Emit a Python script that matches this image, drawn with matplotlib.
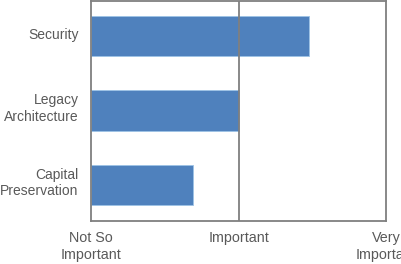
import matplotlib.pyplot as plt
from matplotlib.transforms import ScaledTranslation

categories = ["Capital\nPreservation", "Legacy\nArchitecture", "Security"]
scores = [0.69, 1.0, 1.48]
tick_vals = [0, 1, 2]
tick_labels = ["Not So\nImportant", "Important", "Very\nImportant"]

plt.rcParams["font.family"] = ["Liberation Sans", "DejaVu Sans"]

fig = plt.figure(figsize=(4.01, 2.64), dpi=100)
ax = fig.add_axes([91 / 401, 43 / 264, 295 / 401, 220 / 264])

ax.barh(range(len(categories)), scores, height=0.54, color="#4F81BD",
        edgecolor="#9DC3E6", linewidth=0.6, zorder=2)
ax.axvline(1, color="#7F7F7F", linewidth=1.3, zorder=3)

ax.set_xlim(0, 2)
ax.set_ylim(-0.48, 2.47)
ax.set_xticks(tick_vals)
ax.set_xticklabels(tick_labels, fontsize=10.3, color="#595959",
                   linespacing=1.3, multialignment="center")
ax.set_yticks(range(len(categories)))
ax.set_yticklabels(categories, fontsize=10, color="#595959",
                   linespacing=1.25, multialignment="right")
ax.tick_params(length=0, axis="x", pad=7)
ax.tick_params(length=0, axis="y", pad=9)

# labels sit a few pixels above the bar centres in the original
for lab in ax.get_yticklabels():
    shift = 0.05 if "\n" in lab.get_text() else 0.03
    lab.set_transform(lab.get_transform() + ScaledTranslation(0, shift, fig.dpi_scale_trans))

for s in ax.spines.values():
    s.set_color("#7F7F7F")
    s.set_linewidth(1.3)

fig.savefig("out.png", dpi=100)
